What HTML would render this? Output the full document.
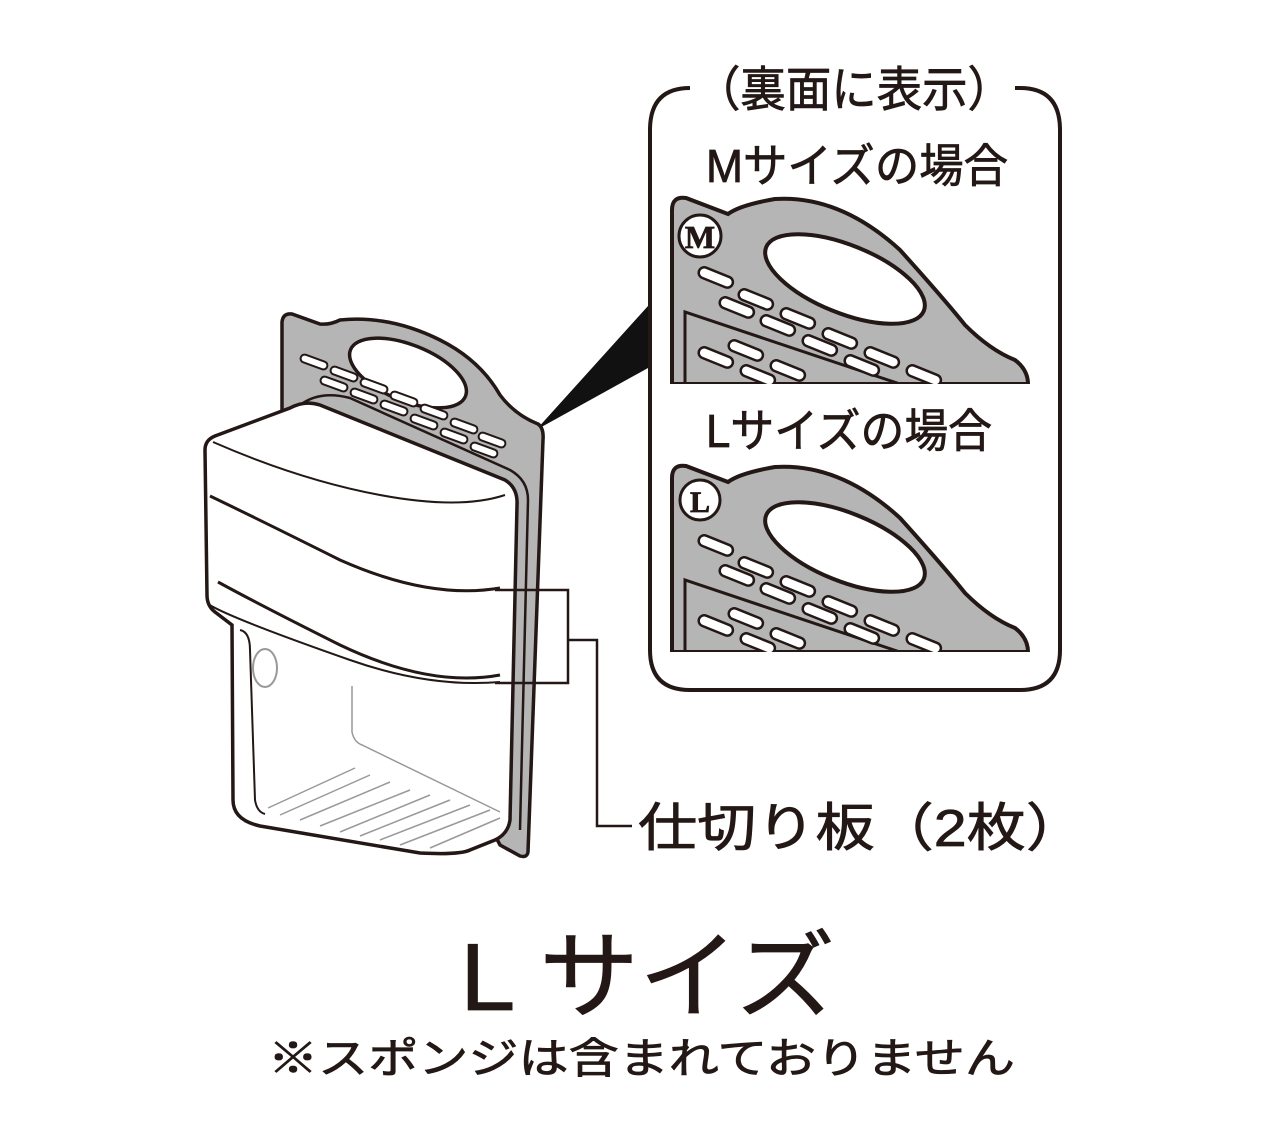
<!DOCTYPE html>
<html><head><meta charset="utf-8"><style>
html,body{margin:0;padding:0;background:#fff;}
svg{display:block}
text{font-family:"Liberation Sans","Noto Sans CJK JP",sans-serif;fill:#231815;stroke:#231815;stroke-width:0.8}
</style></head><body>
<svg width="1280" height="1131" viewBox="0 0 1280 1131" xmlns="http://www.w3.org/2000/svg">
<defs>
<g id="plate">
  <path d="M672,384 L672,210 Q672,196 686,198 L728,214 Q740,205 775,199 Q840,195 900,250 Q945,300 965,325 Q990,350 1015,360 Q1028,370 1028,384 Z" fill="#b5b5b5" stroke="#231815" stroke-width="4"/>
  <ellipse cx="845" cy="279" rx="85" ry="34" transform="rotate(22 845 279)" fill="#fff" stroke="#231815" stroke-width="4"/>
  <path d="M685,384 L685,312 L900,384" fill="none" stroke="#231815" stroke-width="3"/>
  <g fill="#fff" stroke="#231815" stroke-width="2.5">
    <rect x="698" y="272" width="36" height="11" rx="5.5" transform="rotate(22 716 277)"/>
    <rect x="738" y="294" width="36" height="11" rx="5.5" transform="rotate(22 756 299)"/>
    <rect x="719" y="302" width="36" height="11" rx="5.5" transform="rotate(22 737 307)"/>
    <rect x="780" y="313" width="36" height="11" rx="5.5" transform="rotate(22 798 318)"/>
    <rect x="760" y="320" width="36" height="11" rx="5.5" transform="rotate(22 778 325)"/>
    <rect x="822" y="333" width="36" height="11" rx="5.5" transform="rotate(22 840 338)"/>
    <rect x="802" y="340" width="36" height="11" rx="5.5" transform="rotate(22 820 345)"/>
    <rect x="864" y="352" width="36" height="11" rx="5.5" transform="rotate(22 882 357)"/>
    <rect x="844" y="360" width="36" height="11" rx="5.5" transform="rotate(22 862 365)"/>
    <rect x="906" y="370" width="36" height="11" rx="5.5" transform="rotate(22 924 375)"/>
    <rect x="698" y="352" width="36" height="11" rx="5.5" transform="rotate(22 716 357)"/>
    <rect x="728" y="345" width="36" height="11" rx="5.5" transform="rotate(22 746 350)"/>
    <rect x="740" y="370" width="36" height="11" rx="5.5" transform="rotate(22 758 375)"/>
    <rect x="770" y="365" width="36" height="11" rx="5.5" transform="rotate(22 788 370)"/>
  </g>
</g>
<clipPath id="cM"><rect x="660" y="190" width="380" height="194"/></clipPath>
</defs>

<path d="M690,88 Q650,88 650,130 L650,650 Q650,690 690,690 L1020,690 Q1060,690 1060,650 L1060,130 Q1060,88 1020,88 L1015,88" fill="none" stroke="#231815" stroke-width="4"/>
<rect x="692" y="66" width="322" height="44" fill="#fff"/>
<text x="695" y="106" font-size="48" textLength="318" lengthAdjust="spacingAndGlyphs">（裏面に表示）</text>
<text x="706" y="182" font-size="46" textLength="302" lengthAdjust="spacingAndGlyphs">Mサイズの場合</text>
<text x="706" y="447" font-size="46" textLength="286" lengthAdjust="spacingAndGlyphs">Lサイズの場合</text>

<g clip-path="url(#cM)"><use href="#plate"/></g>
<circle cx="700" cy="236" r="21" fill="#fff" stroke="#231815" stroke-width="3"/>
<text x="700" y="248" font-size="32" font-weight="bold" text-anchor="middle" style="font-family:'Liberation Serif',serif">M</text>

<g transform="translate(0,268)"><g clip-path="url(#cM)"><use href="#plate"/></g></g>
<circle cx="700" cy="500" r="20" fill="#fff" stroke="#231815" stroke-width="3"/>
<text x="700" y="512" font-size="30" font-weight="bold" text-anchor="middle" style="font-family:'Liberation Serif',serif">L</text>

<path d="M536,430 L648,306 L648,368 Z" fill="#111"/>

<path d="M282,430 L282,322 Q283,313 292,314 L320,324 Q330,325 340,320 Q390,315 440,340 Q480,360 500,395 Q515,415 538,424 Q544,428 543,440 L528,852 Q527,858 520,856 L500,845 Z" fill="#b5b5b5" stroke="#231815" stroke-width="3.5"/>
<ellipse cx="408" cy="373" rx="62" ry="28" transform="rotate(22 408 373)" fill="#fff" stroke="#231815" stroke-width="3.5"/>
<g fill="#fff" stroke="#231815" stroke-width="2">
  <rect x="300" y="358" width="28" height="8" rx="4" transform="rotate(20 314 362)"/>
  <rect x="330" y="370" width="28" height="8" rx="4" transform="rotate(20 344 374)"/>
  <rect x="320" y="380" width="28" height="8" rx="4" transform="rotate(20 334 384)"/>
  <rect x="360" y="382" width="28" height="8" rx="4" transform="rotate(20 374 386)"/>
  <rect x="350" y="392" width="28" height="8" rx="4" transform="rotate(20 364 396)"/>
  <rect x="390" y="395" width="28" height="8" rx="4" transform="rotate(20 404 399)"/>
  <rect x="380" y="404" width="28" height="8" rx="4" transform="rotate(20 394 408)"/>
  <rect x="420" y="408" width="28" height="8" rx="4" transform="rotate(20 434 412)"/>
  <rect x="410" y="418" width="28" height="8" rx="4" transform="rotate(20 424 422)"/>
  <rect x="450" y="422" width="28" height="8" rx="4" transform="rotate(20 464 426)"/>
  <rect x="440" y="432" width="28" height="8" rx="4" transform="rotate(20 454 436)"/>
  <rect x="478" y="436" width="28" height="8" rx="4" transform="rotate(20 492 440)"/>
  <rect x="470" y="446" width="28" height="8" rx="4" transform="rotate(20 484 450)"/>
</g>
<path d="M300,405 Q320,390 350,398 L510,470 Q528,480 528,500 L520,830" fill="none" stroke="#231815" stroke-width="2.5"/>

<path d="M205,450 Q205,440 215,436 L290,408 Q305,400 320,405 L505,480 Q518,488 517,505 L510,820 Q508,834 495,840 L470,850 Q460,855 420,853 L260,826 Q233,820 233,800 L232,625 L215,612 Q207,606 207,595 Z" fill="#fff" stroke="#231815" stroke-width="3.5"/>
<path d="M213,442 Q300,480 380,495 Q460,510 505,495" fill="none" stroke="#231815" stroke-width="2"/>
<path d="M210,496 Q260,520 340,560 Q430,600 500,588" fill="none" stroke="#231815" stroke-width="3"/>
<path d="M218,582 Q260,605 340,645 Q430,688 500,675" fill="none" stroke="#231815" stroke-width="3"/>
<path d="M208,604 Q230,618 350,660 Q430,688 500,682" fill="none" stroke="#231815" stroke-width="2"/>
<path d="M240,630 Q250,632 250,650 L255,800 Q257,812 265,814" fill="none" stroke="#231815" stroke-width="2"/>
<ellipse cx="265" cy="668" rx="12" ry="19" fill="none" stroke="#999" stroke-width="2"/>
<path d="M352,686 L352,732 Q354,742 362,745 L500,812" fill="none" stroke="#999" stroke-width="1.5"/>
<g stroke="#999" stroke-width="1.5">
  <line x1="268" y1="808" x2="355" y2="768"/><line x1="280" y1="815" x2="370" y2="775"/>
  <line x1="300" y1="820" x2="390" y2="782"/><line x1="320" y1="826" x2="410" y2="790"/>
  <line x1="340" y1="832" x2="430" y2="795"/><line x1="360" y1="836" x2="450" y2="800"/>
  <line x1="380" y1="840" x2="470" y2="805"/><line x1="400" y1="845" x2="490" y2="810"/>
  <line x1="430" y1="848" x2="500" y2="818"/>
</g>

<path d="M495,590 L568,590 L568,683 L495,683" fill="none" stroke="#231815" stroke-width="2.5"/>
<path d="M568,640 L597,640 L597,826 L632,826" fill="none" stroke="#231815" stroke-width="2.5"/>
<text x="638" y="846" font-size="52" textLength="447" lengthAdjust="spacingAndGlyphs">仕切り板（2枚）</text>

<text x="460" y="1010" font-size="96" textLength="375" lengthAdjust="spacingAndGlyphs">L サイズ</text>
<text x="268" y="1073" font-size="42" textLength="747" lengthAdjust="spacingAndGlyphs">※スポンジは含まれておりません</text>
</svg>
</body></html>
